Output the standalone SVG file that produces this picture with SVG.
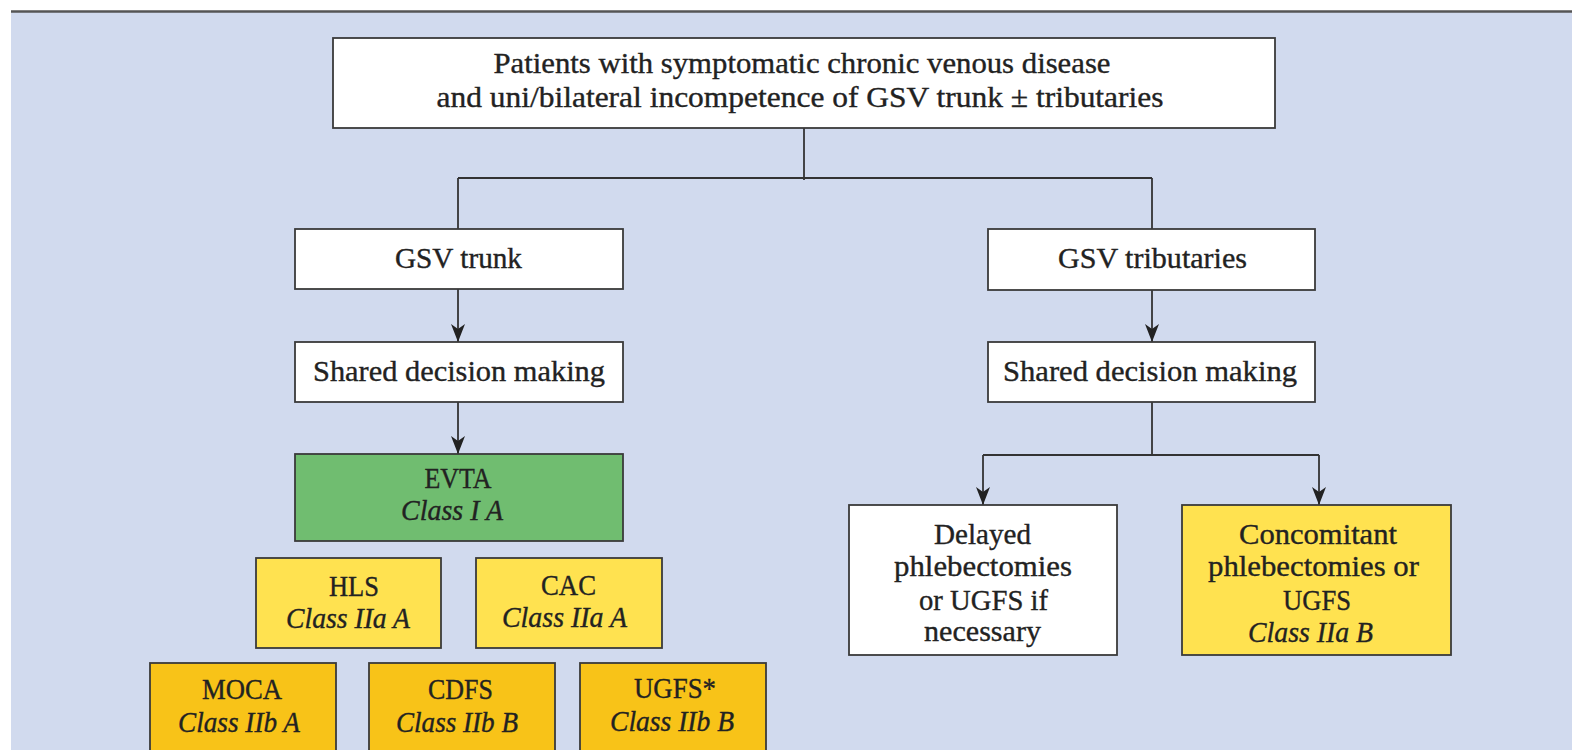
<svg xmlns="http://www.w3.org/2000/svg" width="1572" height="750" viewBox="0 0 1572 750">
<style>
.box{stroke:#3a3a3a;stroke-width:1.8}
.w{fill:#ffffff}
.g{fill:#70bd70}
.y{fill:#ffe250}
.o{fill:#f8c318}
.t{font-family:"Liberation Serif","Times New Roman",serif;font-size:29px;fill:#222222;stroke:#222222;stroke-width:0.35;text-anchor:middle}
.i{font-style:italic}
.c{fill:none;stroke:#333333;stroke-width:1.8}
</style>
<defs>
<marker id="ah" markerUnits="userSpaceOnUse" markerWidth="18" markerHeight="14" refX="18" refY="7" orient="auto" viewBox="0 0 18 14">
<path d="M0,0 L18,7 L0,14 L5,7 Z" fill="#222222"/>
</marker>
</defs>
<rect x="0" y="0" width="1572" height="750" fill="#ffffff"/>
<rect x="11" y="12" width="1561" height="738" fill="#d1daee"/>
<line x1="11" y1="11.5" x2="1572" y2="11.5" stroke="#555555" stroke-width="2.5"/>

<g id="connectors">
<path class="c" d="M804 128 V180"/>
<path class="c" d="M458 178 H1152"/>
<path class="c" d="M458 178 V229"/>
<path class="c" d="M1152 178 V229"/>
<path class="c" d="M458 289 V342" marker-end="url(#ah)"/>
<path class="c" d="M458 402 V454" marker-end="url(#ah)"/>
<path class="c" d="M1152 290 V342" marker-end="url(#ah)"/>
<path class="c" d="M1152 402 V456"/>
<path class="c" d="M983 455 H1319"/>
<path class="c" d="M983 455 V505" marker-end="url(#ah)"/>
<path class="c" d="M1319 455 V505" marker-end="url(#ah)"/>
</g>

<g id="top">
<rect class="box w" x="333" y="38" width="942" height="90"/>
<text class="t" x="802" y="73" textLength="617" lengthAdjust="spacingAndGlyphs">Patients with symptomatic chronic venous disease</text>
<text class="t" x="800" y="107" textLength="727" lengthAdjust="spacingAndGlyphs">and uni/bilateral incompetence of GSV trunk ± tributaries</text>
</g>

<g id="gsv-trunk">
<rect class="box w" x="295" y="229" width="328" height="60"/>
<text class="t" x="458.5" y="268" textLength="127" lengthAdjust="spacingAndGlyphs">GSV trunk</text>
</g>

<g id="sdm-left">
<rect class="box w" x="295" y="342" width="328" height="60"/>
<text class="t" x="459" y="381" textLength="292" lengthAdjust="spacingAndGlyphs">Shared decision making</text>
</g>

<g id="evta">
<rect class="box g" x="295" y="454" width="328" height="87"/>
<text class="t" x="458" y="488" textLength="67" lengthAdjust="spacingAndGlyphs">EVTA</text>
<text class="t i" x="452" y="520" textLength="102" lengthAdjust="spacingAndGlyphs">Class I A</text>
</g>

<g id="hls">
<rect class="box y" x="256" y="558" width="185" height="90"/>
<text class="t" x="354" y="596" textLength="50" lengthAdjust="spacingAndGlyphs">HLS</text>
<text class="t i" x="348" y="628" textLength="124" lengthAdjust="spacingAndGlyphs">Class IIa A</text>
</g>

<g id="cac">
<rect class="box y" x="476" y="558" width="186" height="90"/>
<text class="t" x="568.5" y="595" textLength="55" lengthAdjust="spacingAndGlyphs">CAC</text>
<text class="t i" x="564.5" y="627" textLength="125" lengthAdjust="spacingAndGlyphs">Class IIa A</text>
</g>

<g id="moca">
<rect class="box o" x="150" y="663" width="186" height="100"/>
<text class="t" x="242" y="699" textLength="80" lengthAdjust="spacingAndGlyphs">MOCA</text>
<text class="t i" x="239" y="732" textLength="122" lengthAdjust="spacingAndGlyphs">Class IIb A</text>
</g>

<g id="cdfs">
<rect class="box o" x="369" y="663" width="186" height="100"/>
<text class="t" x="460.5" y="699" textLength="65" lengthAdjust="spacingAndGlyphs">CDFS</text>
<text class="t i" x="457" y="732" textLength="122" lengthAdjust="spacingAndGlyphs">Class IIb B</text>
</g>

<g id="ugfs">
<rect class="box o" x="580" y="663" width="186" height="100"/>
<text class="t" x="675" y="698" textLength="82" lengthAdjust="spacingAndGlyphs">UGFS*</text>
<text class="t i" x="672" y="731" textLength="124" lengthAdjust="spacingAndGlyphs">Class IIb B</text>
</g>

<g id="gsv-trib">
<rect class="box w" x="988" y="229" width="327" height="61"/>
<text class="t" x="1152.5" y="268" textLength="189" lengthAdjust="spacingAndGlyphs">GSV tributaries</text>
</g>

<g id="sdm-right">
<rect class="box w" x="988" y="342" width="327" height="60"/>
<text class="t" x="1150" y="381" textLength="294" lengthAdjust="spacingAndGlyphs">Shared decision making</text>
</g>

<g id="delayed">
<rect class="box w" x="849" y="505" width="268" height="150"/>
<text class="t" x="982.5" y="544" textLength="97" lengthAdjust="spacingAndGlyphs">Delayed</text>
<text class="t" x="983" y="576" textLength="178" lengthAdjust="spacingAndGlyphs">phlebectomies</text>
<text class="t" x="983.5" y="610" textLength="129" lengthAdjust="spacingAndGlyphs">or UGFS if</text>
<text class="t" x="982.5" y="641" textLength="117" lengthAdjust="spacingAndGlyphs">necessary</text>
</g>

<g id="concomitant">
<rect class="box y" x="1182" y="505" width="269" height="150"/>
<text class="t" x="1318" y="544" textLength="158" lengthAdjust="spacingAndGlyphs">Concomitant</text>
<text class="t" x="1313.5" y="576" textLength="211" lengthAdjust="spacingAndGlyphs">phlebectomies or</text>
<text class="t" x="1317" y="610" textLength="68" lengthAdjust="spacingAndGlyphs">UGFS</text>
<text class="t i" x="1310.5" y="642" textLength="125" lengthAdjust="spacingAndGlyphs">Class IIa B</text>
</g>
</svg>
